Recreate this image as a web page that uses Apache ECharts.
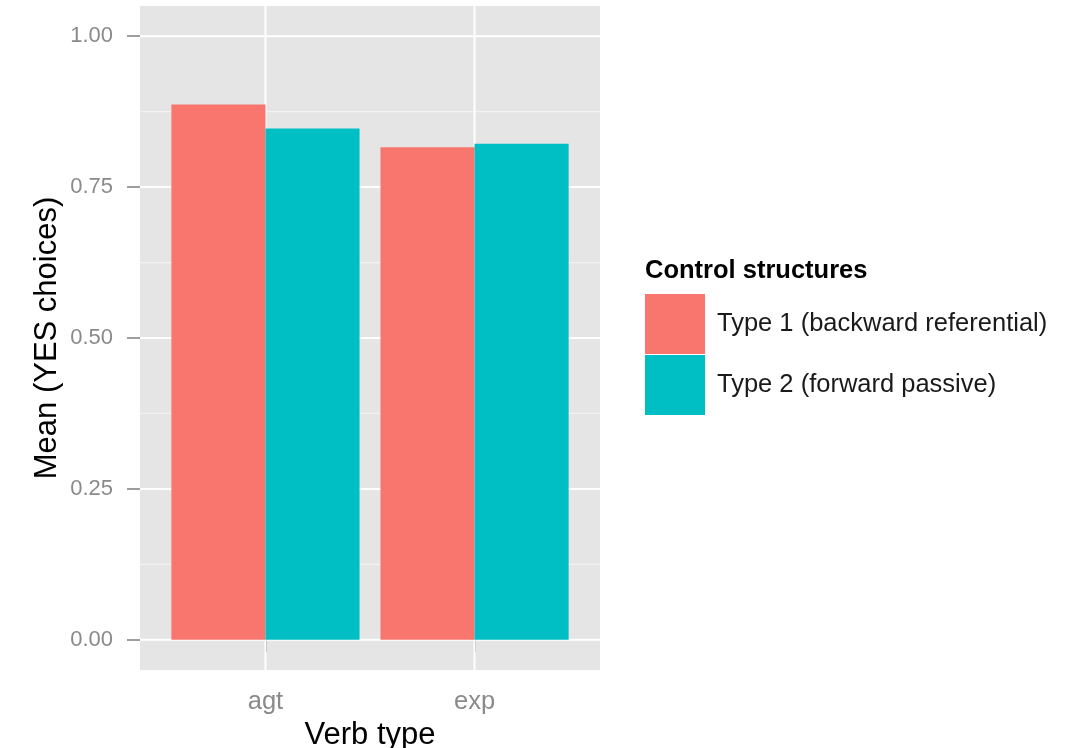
<!DOCTYPE html>
<html>
<head>
<meta charset="utf-8">
<script src="https://cdn.jsdelivr.net/npm/echarts@6/dist/echarts.min.js"></script>
<style>
html,body{margin:0;padding:0;background:#fff;}
#chart{width:1074px;height:748px;}
</style>
</head>
<body>
<div id="chart"></div>
<script>
// ---- data ----
var categories = ['agt', 'exp'];
var seriesNames = ['Type 1 (backward referential)', 'Type 2 (forward passive)'];
var type1Values = [0.887, 0.816];
var type2Values = [0.847, 0.822];
var yTicks = [0, 0.25, 0.5, 0.75, 1.0];
var yMinorTicks = [0.125, 0.375, 0.625, 0.875];
var xPositions = [1, 2];

var FONT = "'Liberation Sans', Arial, sans-serif";
var colors = ['#F8766D', '#00BFC4'];
var xMin = 0.4, xMax = 2.6, yMin = -0.05, yMax = 1.05;
var dodge = 0.45;

function barRender(offset) {
  return function (params, api) {
    var x = api.value(0), y = api.value(1);
    var p1 = api.coord([x + offset, y]);
    var p2 = api.coord([x + offset + dodge, 0]);
    return {
      type: 'rect',
      shape: { x: p1[0], y: p1[1], width: p2[0] - p1[0], height: p2[1] - p1[1] },
      style: api.style()
    };
  };
}
function hLineRender(color, width) {
  return function (params, api) {
    var cs = params.coordSys;
    var y = api.coord([xMin, api.value(1)])[1];
    return { type: 'line', shape: { x1: cs.x, y1: y, x2: cs.x + cs.width, y2: y },
      style: { stroke: color, lineWidth: width } };
  };
}
function vLineRender(color, width) {
  return function (params, api) {
    var cs = params.coordSys;
    var x = api.coord([api.value(0), yMin])[0];
    return { type: 'line', shape: { x1: x, y1: cs.y, x2: x, y2: cs.y + cs.height },
      style: { stroke: color, lineWidth: width } };
  };
}

var chart = echarts.init(document.getElementById('chart'), null, { renderer: 'canvas' });
var option = {
  animation: false,
  backgroundColor: '#ffffff',
  textStyle: { fontFamily: FONT },
  title: {
    text: 'Control structures',
    left: 645, top: 258, padding: 0,
    textStyle: { fontFamily: FONT, fontSize: 25.5, fontWeight: 'bold', color: '#000' }
  },
  legend: {
    orient: 'vertical',
    left: 645, top: 294,
    padding: 0,
    itemWidth: 60, itemHeight: 60, itemGap: 1,
    icon: 'rect',
    data: seriesNames,
    selectedMode: false,
    textStyle: { fontFamily: FONT, fontSize: 25.5, color: '#1a1a1a', padding: [0, 0, 0, 7] }
  },
  grid: {
    left: 140, right: 474, top: 6, bottom: 78,
    outerBoundsMode: 'none', containLabel: false,
    show: true, backgroundColor: '#E5E5E5', borderWidth: 0
  },
  xAxis: {
    type: 'value', min: xMin, max: xMax,
    axisLine: { show: false },
    splitLine: { show: false },
    axisTick: { show: true, customValues: xPositions, length: 12, lineStyle: { color: '#7F7F7F', width: 1.5 } },
    axisLabel: {
      customValues: xPositions, margin: 19,
      formatter: function (v) { return categories[Math.round(v) - 1]; },
      fontFamily: FONT, fontSize: 25.5, color: '#8A8A8A'
    },
    name: 'Verb type', nameLocation: 'middle', nameGap: 47,
    nameTextStyle: { fontFamily: FONT, fontSize: 31, color: '#000' }
  },
  yAxis: {
    type: 'value', min: yMin, max: yMax,
    axisLine: { show: false },
    splitLine: { show: false },
    axisTick: { show: true, customValues: yTicks, length: 13, lineStyle: { color: '#7F7F7F', width: 1.5 } },
    axisLabel: {
      customValues: yTicks, margin: 27,
      formatter: function (v) { return v.toFixed(2); },
      fontFamily: FONT, fontSize: 22, color: '#8A8A8A'
    },
    name: 'Mean (YES choices)', nameLocation: 'middle', nameGap: 77,
    nameTextStyle: { fontFamily: FONT, fontSize: 31, color: '#000' }
  },
  series: [
    { type: 'custom', name: 'minorH', silent: true, z: 1, renderItem: hLineRender('#F2F2F2', 1.2),
      data: yMinorTicks.map(function (v) { return [xMin, v]; }) },
    { type: 'custom', name: 'majorH', silent: true, z: 1, renderItem: hLineRender('#FFFFFF', 2),
      data: yTicks.map(function (v) { return [xMin, v]; }) },
    { type: 'custom', name: 'majorV', silent: true, z: 1, renderItem: vLineRender('#FFFFFF', 2),
      data: xPositions.map(function (v) { return [v, yMin]; }) },
    { type: 'custom', name: seriesNames[0], z: 3, itemStyle: { color: colors[0] },
      renderItem: barRender(-dodge),
      data: xPositions.map(function (x, i) { return [x, type1Values[i]]; }) },
    { type: 'custom', name: seriesNames[1], z: 3, itemStyle: { color: colors[1] },
      renderItem: barRender(0),
      data: xPositions.map(function (x, i) { return [x, type2Values[i]]; }) }
  ]
};
chart.setOption(option);
</script>
</body>
</html>
